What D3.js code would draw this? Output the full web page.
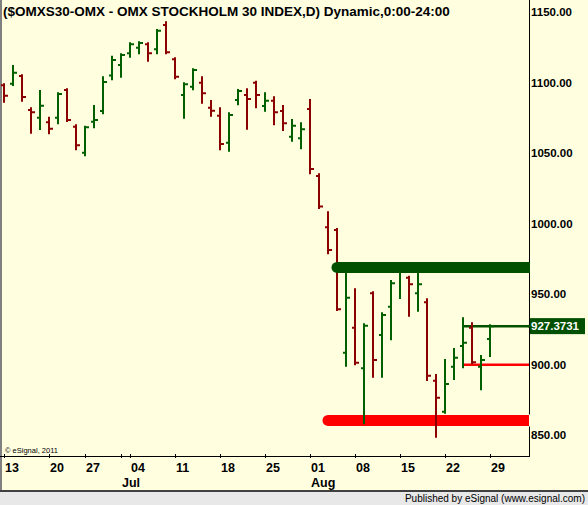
<!DOCTYPE html>
<html>
<head>
<meta charset="utf-8">
<script src="https://cdn.jsdelivr.net/npm/d3@7"></script>
<style>
  body { margin: 0; background: #fff; }
  svg text { font-family: "Liberation Sans", Arial, sans-serif; }
</style>
</head>
<body>
<div id="container"></div>
<script>
/* CONSTANTS AND GLOBALS */
const width = 588,
  height = 505,
  plotRight = 529,
  plotBottom = 456;

/* DATA */
const dates = [
  "2011-06-13","2011-06-14","2011-06-15","2011-06-16","2011-06-17",
  "2011-06-20","2011-06-21","2011-06-22","2011-06-23",
  "2011-06-27","2011-06-28","2011-06-29","2011-06-30","2011-07-01",
  "2011-07-04","2011-07-05","2011-07-06","2011-07-07","2011-07-08",
  "2011-07-11","2011-07-12","2011-07-13","2011-07-14","2011-07-15",
  "2011-07-18","2011-07-19","2011-07-20","2011-07-21","2011-07-22",
  "2011-07-25","2011-07-26","2011-07-27","2011-07-28","2011-07-29",
  "2011-08-01","2011-08-02","2011-08-03","2011-08-04","2011-08-05",
  "2011-08-08","2011-08-09","2011-08-10","2011-08-11","2011-08-12",
  "2011-08-15","2011-08-16","2011-08-17","2011-08-18","2011-08-19",
  "2011-08-22","2011-08-23","2011-08-24","2011-08-25","2011-08-26",
  "2011-08-29"
];
const open = [1098, 1099.2, 1104.6, 1080.5, 1075.1, 1071.8, 1075.1, 1094.7, 1068.7, 1050.3,
  1072.3, 1079.8, 1105, 1112.4, 1120.7, 1124.7, 1127.1, 1123.6, 1140.8, 1116.5,
  1091.2, 1097.1, 1099.9, 1082.2, 1076.5, 1057.4, 1087.6, 1091.2, 1099.9, 1083.4,
  1087.1, 1079.8, 1061.6, 1060.5, 1081.3, 1033.8, 997.4, 995.5, 908.5, 926.3,
  897.5, 950.6, 921.1, 941.1, 966, 961.7, 950.6, 944.3, 888.7, 866.7,
  898.6, 913.3, 926.3, 898.6, 918.3];
const high = [1098.8, 1111.7, 1105.1, 1081.8, 1094, 1075.1, 1092.4, 1095.2, 1069.7, 1068.7,
  1083.4, 1103.7, 1118.3, 1120, 1127.8, 1128.5, 1127.8, 1137.2, 1142.7, 1117.2,
  1099.5, 1109.4, 1103.7, 1086.9, 1081.8, 1078.2, 1094.7, 1095.2, 1100.6, 1092.4,
  1089.5, 1083.4, 1073.5, 1071.1, 1087.6, 1035, 1008, 996.2, 968, 953.5,
  928.7, 951.3, 936.5, 959.4, 972, 962.4, 968, 946.4, 892.7, 903.4,
  911.2, 932.9, 929.4, 906.2, 928];
const low = [1086.4, 1098.3, 1087.1, 1064.5, 1067.1, 1064, 1071.1, 1072.8, 1052.7, 1048.4,
  1068.3, 1078.2, 1102.3, 1104.1, 1118.3, 1120.7, 1115.5, 1120.7, 1120.7, 1103,
  1075.1, 1095.2, 1085.7, 1076.5, 1052.7, 1051.7, 1084.6, 1067.3, 1082.5, 1080,
  1070.4, 1066.4, 1058.8, 1053.4, 1035.7, 1011.1, 979, 938.8, 899.3, 900.3,
  858.5, 891.5, 891.5, 918, 947.3, 934.8, 938.3, 889.2, 849, 866,
  889.9, 898.2, 901, 882.6, 906.2];
const close = [1090.7, 1107, 1089.8, 1078.9, 1083.6, 1067.3, 1091.9, 1073.5, 1055.5, 1068.3,
  1073.5, 1100.4, 1116, 1119.5, 1127.1, 1128, 1120.7, 1136.7, 1121.4, 1104.1,
  1098.8, 1108.9, 1092.4, 1080, 1056.5, 1077, 1094, 1088.3, 1091.2, 1087.1,
  1078.9, 1071.1, 1069.4, 1066.9, 1038.7, 1012.2, 981.3, 939.3, 947.5, 901.5,
  927.7, 903.4, 935.3, 957.7, 970, 957, 957, 892.2, 876.6, 886.4,
  905, 915.6, 901.7, 903.4, 927.3731];

const priceTicks = [850, 900, 950, 1000, 1050, 1100, 1150];
const weekDates = ["2011-06-13","2011-06-20","2011-06-27","2011-07-04","2011-07-11","2011-07-18",
  "2011-07-25","2011-08-01","2011-08-08","2011-08-15","2011-08-22","2011-08-29"];
const weekLabels = ["13","20","27","04","11","18","25","01","08","15","22","29"];
const monthDates = ["2011-07-01","2011-08-01"];
const monthLabels = ["Jul","Aug"];

// drawn levels: [start date, price]
const resistanceBand = ["2011-08-04", 969];
const supportBand = ["2011-08-03", 860.5];
const lastLine = ["2011-08-24", 927.3731];
const redLine = ["2011-08-24", 900];

const bars = dates.map((d, i) => ({date: d, o: open[i], h: high[i], l: low[i], c: close[i]}));

const upColor = "#006000",
  downColor = "#8b0000";

/* SVG */
const svg = d3.select("#container")
  .append("svg")
  .attr("width", width)
  .attr("height", height)
  .style("display", "block")
  .style("background-color", "#ffffe0");

/* SCALES */
const xScale = d3.scalePoint()
  .domain(dates)
  .range([4, 490]);

const yScale = d3.scaleLinear()
  .domain([850, 1150])
  .range([435.3, 12]);

// frame
svg.append("line")
  .attr("x1", 1).attr("x2", 1).attr("y1", 0).attr("y2", 491)
  .attr("stroke", "#808080").attr("stroke-width", 2);
svg.append("line")
  .attr("x1", plotRight + 0.5).attr("x2", plotRight + 0.5).attr("y1", 0).attr("y2", plotBottom)
  .attr("stroke", "#000");
svg.append("line")
  .attr("x1", 0).attr("x2", plotRight + 1).attr("y1", plotBottom + 0.5).attr("y2", plotBottom + 0.5)
  .attr("stroke", "#000");

// title
svg.append("text")
  .attr("x", 3)
  .attr("y", 16)
  .attr("font-size", 13.5)
  .attr("font-weight", "bold")
  .text("($OMXS30-OMX - OMX STOCKHOLM 30 INDEX,D) Dynamic,0:00-24:00");

// support band (under the bars)
svg.append("line")
  .attr("x1", xScale(supportBand[0])).attr("x2", plotRight)
  .attr("y1", yScale(supportBand[1])).attr("y2", yScale(supportBand[1]))
  .attr("stroke", "#ff0000").attr("stroke-width", 11).attr("stroke-linecap", "round");
svg.append("rect")
  .attr("x", plotRight).attr("y", yScale(supportBand[1]) - 6).attr("width", 6).attr("height", 12)
  .attr("fill", "#ffffe0");

// thin lines
svg.append("line")
  .attr("x1", xScale(redLine[0])).attr("x2", plotRight)
  .attr("y1", yScale(redLine[1])).attr("y2", yScale(redLine[1]))
  .attr("stroke", "#ff0000").attr("stroke-width", 2.5);
svg.append("line")
  .attr("x1", xScale(lastLine[0])).attr("x2", plotRight)
  .attr("y1", yScale(lastLine[1])).attr("y2", yScale(lastLine[1]))
  .attr("stroke", "#005000").attr("stroke-width", 2.5);

/* BARS */
const barG = svg.append("g");
barG.selectAll(".bar")
  .data(bars)
  .join("path")
  .attr("class", "bar")
  .attr("fill", "none")
  .attr("stroke-width", 2)
  .attr("stroke", d => d.c >= d.o ? upColor : downColor)
  .attr("d", d => {
    const x = xScale(d.date);
    return `M${x},${yScale(d.h) - 1}V${yScale(d.l) + 1}` +
      `M${x - 3},${yScale(d.o)}H${x}` +
      `M${x},${yScale(d.c)}H${x + 4}`;
  });

// resistance band (over the bars)
svg.append("line")
  .attr("x1", xScale(resistanceBand[0])).attr("x2", plotRight)
  .attr("y1", yScale(resistanceBand[1])).attr("y2", yScale(resistanceBand[1]))
  .attr("stroke", "#005000").attr("stroke-width", 11).attr("stroke-linecap", "round");
svg.append("rect")
  .attr("x", plotRight + 1).attr("y", yScale(resistanceBand[1]) - 6).attr("width", 6).attr("height", 12)
  .attr("fill", "#ffffe0");

/* AXES */
svg.selectAll(".ylab")
  .data(priceTicks)
  .join("text")
  .attr("class", "ylab")
  .attr("x", 531)
  .attr("y", d => yScale(d))
  .attr("dy", "0.35em")
  .attr("font-size", 11.5)
  .attr("font-weight", "bold")
  .text(d => d3.format(".2f")(d));

// last price marker
const lastY = yScale(lastLine[1]);
svg.append("rect")
  .attr("x", plotRight + 1).attr("y", lastY - 8).attr("width", 55).attr("height", 16)
  .attr("fill", "#005000");
svg.append("line")
  .attr("x1", plotRight - 1).attr("x2", plotRight + 2).attr("y1", lastY).attr("y2", lastY)
  .attr("stroke", "#005000").attr("stroke-width", 2.5);
svg.append("text")
  .attr("x", 531).attr("y", lastY).attr("dy", "0.35em")
  .attr("font-size", 11.5).attr("font-weight", "bold").attr("fill", "#fff")
  .text(d3.format(".4f")(lastLine[1]));

// x ticks
const tickDates = weekDates.concat(monthDates);
svg.selectAll(".xtick")
  .data(tickDates)
  .join("line")
  .attr("class", "xtick")
  .attr("x1", d => xScale(d) + 0.5).attr("x2", d => xScale(d) + 0.5)
  .attr("y1", plotBottom - 2).attr("y2", plotBottom + 2)
  .attr("stroke", "#000");

svg.selectAll(".xlab")
  .data(weekDates)
  .join("text")
  .attr("class", "xlab")
  .attr("x", d => xScale(d) + 1)
  .attr("y", 472)
  .attr("font-size", 12.5)
  .attr("font-weight", "bold")
  .text((d, i) => weekLabels[i]);

svg.selectAll(".mlab")
  .data(monthDates)
  .join("text")
  .attr("class", "mlab")
  .attr("x", d => xScale(d) + 1)
  .attr("y", 487)
  .attr("font-size", 12.5)
  .attr("font-weight", "bold")
  .text((d, i) => monthLabels[i]);

// copyright
svg.append("text")
  .attr("x", 5).attr("y", 453)
  .attr("font-size", 7.5)
  .text("© eSignal, 2011");

// footer
svg.append("rect")
  .attr("x", 0).attr("y", 491).attr("width", width).attr("height", 14)
  .attr("fill", "#e8e8e8");
svg.append("line")
  .attr("x1", 0).attr("x2", width).attr("y1", 491).attr("y2", 491)
  .attr("stroke", "#404040").attr("stroke-width", 2);
svg.append("text")
  .attr("x", 585).attr("y", 502)
  .attr("text-anchor", "end")
  .attr("font-size", 10)
  .text("Published by eSignal (www.esignal.com)");
</script>
</body>
</html>
